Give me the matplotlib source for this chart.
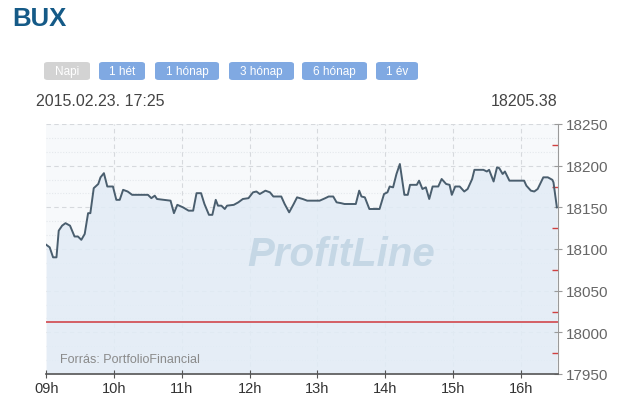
import matplotlib.pyplot as plt
from matplotlib.patches import FancyBboxPatch
from matplotlib.ticker import MultipleLocator, FixedLocator
import numpy as np

plt.rcParams['font.family'] = ['Liberation Sans', 'DejaVu Sans']

# intraday BUX index
times = ['09:00', '09:03', '09:06', '09:09', '09:11', '09:14', '09:17', '09:21',
         '09:25', '09:28', '09:31', '09:34', '09:37', '09:39', '09:42', '09:46',
         '09:48', '09:51', '09:54', '09:59', '10:02', '10:05', '10:08', '10:12',
         '10:16', '10:30', '10:33', '10:36', '10:38', '10:50', '10:53', '10:56',
         '11:01', '11:06', '11:10', '11:13', '11:17', '11:20', '11:24', '11:27',
         '11:30', '11:32', '11:35', '11:38', '11:40', '11:46', '11:50', '11:54',
         '11:59', '12:03', '12:06', '12:09', '12:14', '12:18', '12:21', '12:28',
         '12:31', '12:35', '12:39', '12:42', '12:47', '12:51', '13:02', '13:07',
         '13:10', '13:14', '13:17', '13:21', '13:24', '13:34', '13:37', '13:39',
         '13:42', '13:46', '13:55', '13:59', '14:02', '14:04', '14:07', '14:10',
         '14:13', '14:17', '14:20', '14:22', '14:28', '14:30', '14:33', '14:36',
         '14:39', '14:42', '14:47', '14:50', '14:54', '14:57', '14:59', '15:02',
         '15:06', '15:10', '15:13', '15:17', '15:19', '15:27', '15:30', '15:32',
         '15:36', '15:39', '15:41', '15:44', '15:46', '15:50', '16:03', '16:05',
         '16:09', '16:12', '16:15', '16:20', '16:24', '16:28', '16:29', '16:32']
values = [18105, 18102, 18090, 18090, 18122, 18128, 18131, 18128,
          18115, 18115, 18111, 18118, 18143, 18143, 18173, 18178,
          18186, 18191, 18175, 18175, 18159, 18159, 18171, 18169,
          18165, 18165, 18161, 18164, 18160, 18158, 18143, 18153,
          18150, 18146, 18146, 18167, 18167, 18154, 18141, 18141,
          18159, 18152, 18152, 18148, 18152, 18153, 18156, 18160,
          18161, 18168, 18169, 18166, 18170, 18168, 18163, 18163,
          18154, 18144, 18154, 18162, 18160, 18158, 18158, 18161,
          18163, 18163, 18156, 18155, 18154, 18154, 18170, 18163,
          18162, 18148, 18148, 18166, 18168, 18175, 18174, 18190,
          18202, 18165, 18165, 18177, 18177, 18182, 18172, 18174,
          18160, 18175, 18175, 18184, 18178, 18177, 18165, 18175,
          18175, 18169, 18172, 18184, 18195, 18195, 18193, 18195,
          18181, 18198, 18197, 18190, 18193, 18182, 18182, 18176,
          18170, 18169, 18172, 18186, 18186, 18183, 18180, 18150]
prev_close = 18012
hour_labels = ['09h', '10h', '11h', '12h', '13h', '14h', '15h', '16h']
y_ticks = [17950, 18000, 18050, 18100, 18150, 18200, 18250]
buttons = ['Napi', '1 hét', '1 hónap', '3 hónap', '6 hónap', '1 év']
stamp = '2015.02.23. 17:25'
last_value = '18205.38'
source = 'Forrás: PortfolioFinancial'

hours = np.array([int(t[:2]) + int(t[3:]) / 60 for t in times])

W, H = 619, 406
fig = plt.figure(figsize=(W / 100, H / 100), dpi=100)
fig.patch.set_facecolor('white')

ax = fig.add_axes([46.3 / W, 31 / H, (558 - 46.3) / W, 250 / H])
ax.set_facecolor('#f7f9fb')
ax.set_xlim(9, 16.55)
ax.set_ylim(17950, 18250)

# grid
for v in np.arange(17950, 18250, 50 / 3):
    if abs((v - 17950) % 50) > 1:
        ax.axhline(v, color='#e4e8ec', lw=0.8, ls=(0, (1, 1.5)), zorder=0)
for v in y_ticks[1:]:
    ax.axhline(v, color='#d6d9dd', lw=0.8, ls=(0, (4, 3)), zorder=0.5)
for h in range(10, 17):
    ax.axvline(h, color='#d6d9dd', lw=0.8, ls=(0, (4, 3)), zorder=0.5)

ax.fill_between(hours, values, 17950, color='#e2ecf6', alpha=0.85, lw=0, zorder=1)
ax.text(13.35, 18094, 'ProfitLine', fontsize=29, fontweight='bold', style='italic',
        color='#c5d7e5', ha='center', va='center', zorder=1.5)
ax.plot(hours, values, color='#4a5e6e', lw=1.4, zorder=3)
ax.axhline(prev_close, color='#d0383e', lw=1.1, zorder=2)
ax.text(9.2, 17968, source, fontsize=9, color='#8a8a8a', ha='left', va='center')

# axes
for s in ['top', 'left']:
    ax.spines[s].set_visible(False)
ax.spines['right'].set_color('#9a9a9a')
ax.spines['bottom'].set_color('#555555')
ax.spines['bottom'].set_linewidth(1.2)
ax.yaxis.tick_right()
ax.yaxis.set_major_locator(FixedLocator(y_ticks))
ax.yaxis.set_minor_locator(MultipleLocator(25))
ax.set_yticklabels([str(v) for v in y_ticks])
ax.tick_params(axis='y', which='major', direction='inout', length=6, color='#9a9a9a',
               labelsize=11, labelcolor='#666666', pad=3)
ax.tick_params(axis='y', which='minor', direction='in', length=4, color='#d04040', width=1)
ax.set_xticks(range(9, 17))
ax.set_xticklabels(hour_labels)
ax.tick_params(axis='x', direction='inout', length=6, color='#555555',
               labelsize=10.5, labelcolor='#333333', pad=2)

# header
fig.text(12 / W, 1 - 19 / H, 'BUX', fontsize=18.5, fontweight='bold', color='#155a87',
         ha='left', va='center')
btn_x = [(44, 90), (99, 145), (155, 219), (229, 294), (302, 367), (376, 418)]
for (x0, x1), lab in zip(btn_x, buttons):
    col = '#d3d3d3' if lab == 'Napi' else '#80a9e2'
    p = FancyBboxPatch((x0 / W, 1 - 81 / H), (x1 - x0) / W, 18 / H,
                       boxstyle='round,pad=0,rounding_size=0.006',
                       transform=fig.transFigure, fc=col, ec='none')
    fig.patches.append(p)
    fig.text((x0 + x1) / 2 / W, 1 - 72 / H, lab, fontsize=8.5, color='white',
             ha='center', va='center')
fig.text(36 / W, 1 - 102 / H, stamp, fontsize=11.5, color='#444444', ha='left', va='center')
fig.text(557 / W, 1 - 102 / H, last_value, fontsize=11.5, color='#444444',
         ha='right', va='center')

fig.savefig('out.png', dpi=100)
